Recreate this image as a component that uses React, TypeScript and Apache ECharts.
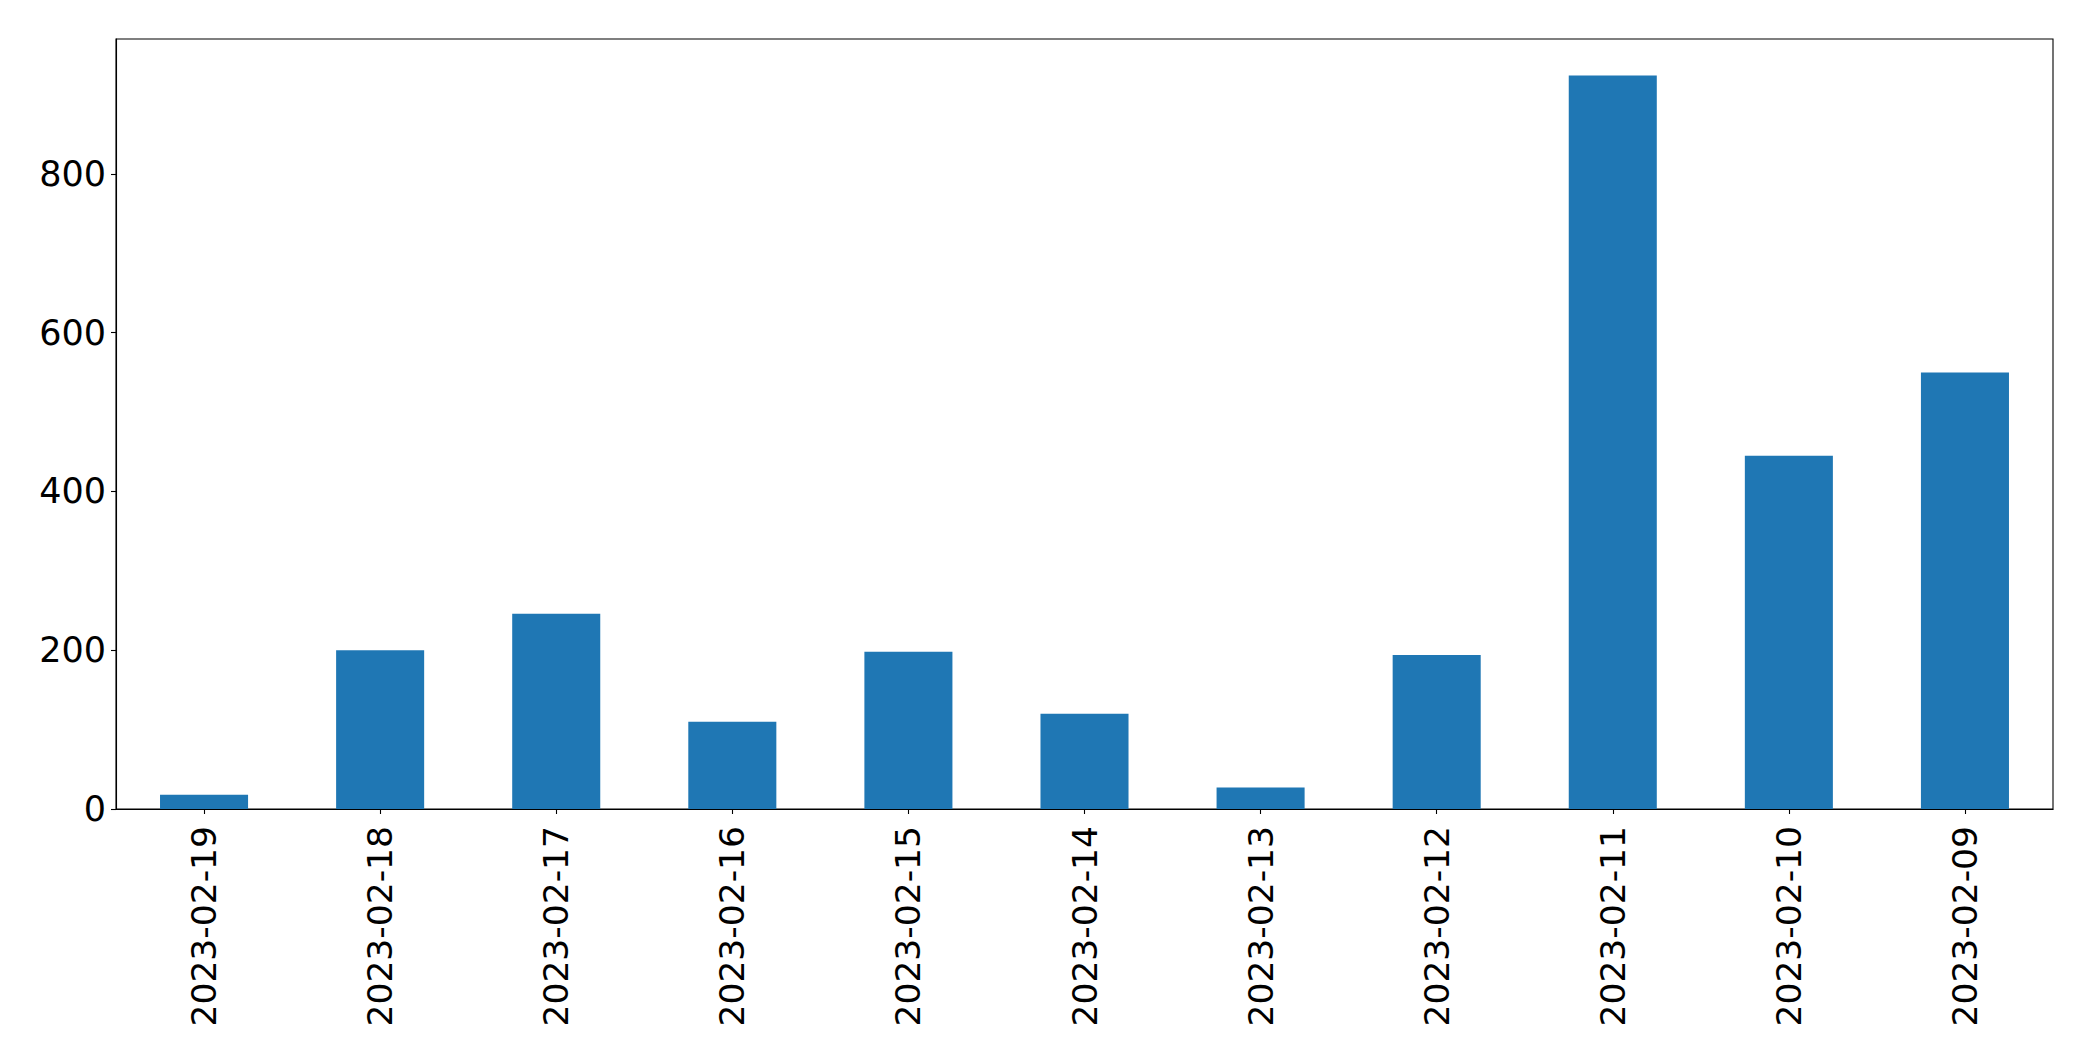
import React, { useEffect, useRef } from "react";
import * as echarts from "echarts";

const categories = [
  "2023-02-19",
  "2023-02-18",
  "2023-02-17",
  "2023-02-16",
  "2023-02-15",
  "2023-02-14",
  "2023-02-13",
  "2023-02-12",
  "2023-02-11",
  "2023-02-10",
  "2023-02-09",
];
const values = [18, 200, 246, 110, 198, 120, 27, 194, 924, 445, 550];
const yMax = 970;
const yInterval = 200;

export default function App() {
  const ref = useRef<HTMLDivElement>(null);
  useEffect(() => {
    if (!ref.current) return;
    const chart = echarts.init(ref.current, null, { renderer: "svg" });
    const font = "DejaVu Sans";
    chart.setOption({
      animation: false,
      backgroundColor: "#ffffff",
      grid: {
        left: 116,
        right: 40,
        top: 39,
        bottom: 252,
        show: true,
        borderColor: "#000000",
        borderWidth: 1.1,
        backgroundColor: "transparent",
      },
      xAxis: {
        type: "category",
        data: categories,
        boundaryGap: true,
        axisLine: { show: true, lineStyle: { color: "#000000", width: 1.1 } },
        axisTick: {
          show: true,
          alignWithLabel: true,
          length: 5,
          lineStyle: { color: "#000000", width: 1.1 },
        },
        axisLabel: {
          rotate: 90,
          margin: 17,
          fontSize: 34.5,
          fontFamily: font,
          color: "#000000",
          interval: 0,
        },
        splitLine: { show: false },
      },
      yAxis: {
        type: "value",
        min: 0,
        max: yMax,
        interval: yInterval,
        axisLine: { show: true, lineStyle: { color: "#000000", width: 1.1 } },
        axisTick: {
          show: true,
          length: 5,
          lineStyle: { color: "#000000", width: 1.1 },
        },
        axisLabel: {
          margin: 10,
          fontSize: 35,
          fontFamily: font,
          color: "#000000",
          showMaxLabel: false,
          formatter: (v: number) => (v % yInterval === 0 ? String(v) : ""),
        },
        splitLine: { show: false },
      },
      series: [
        {
          type: "bar",
          data: values,
          barWidth: "50%",
          itemStyle: { color: "#1f77b4" },
        },
      ],
    });
    return () => chart.dispose();
  }, []);
  return (
    <div
      ref={ref}
      style={{
        position: "fixed",
        left: 0,
        top: 0,
        width: "2093px",
        height: "1061px",
        background: "#ffffff",
      }}
    />
  );
}
